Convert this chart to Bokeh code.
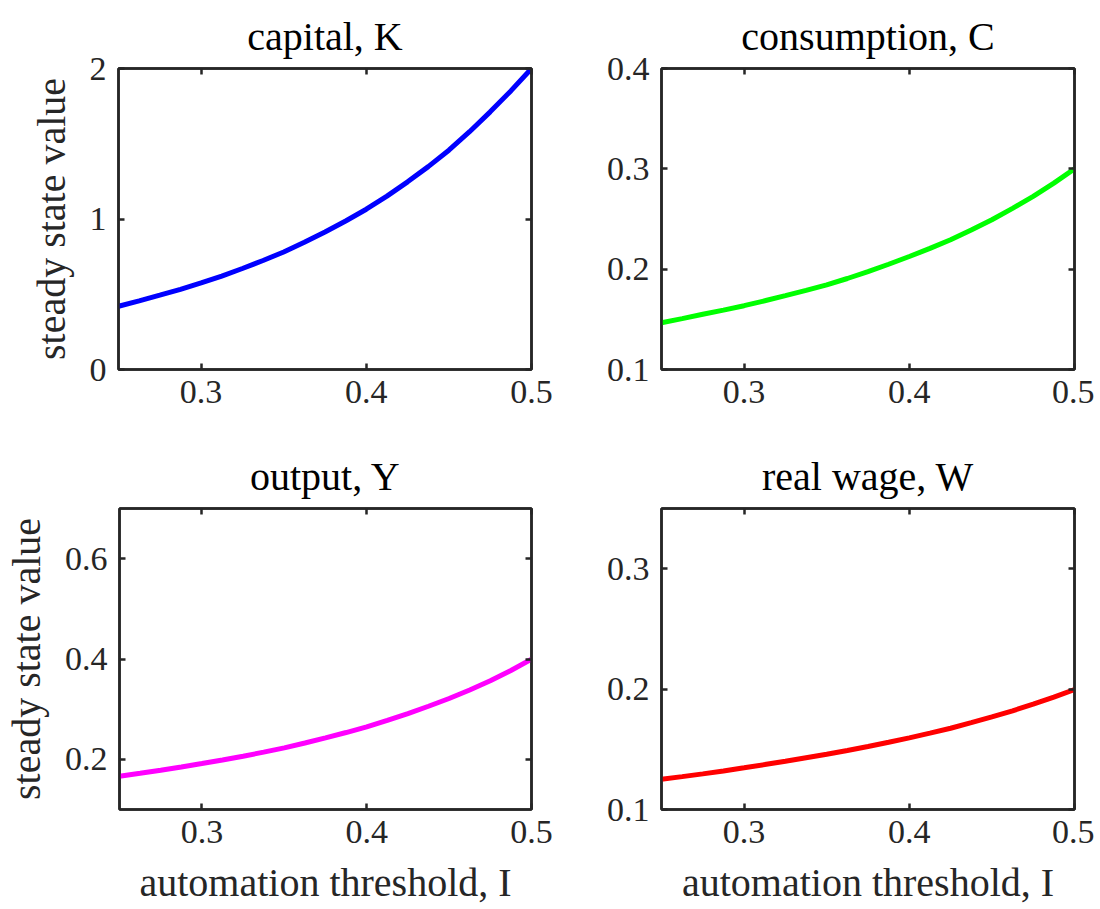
from bokeh.plotting import figure
from bokeh.models import Range1d, FixedTicker, LinearAxis
from bokeh.layouts import column, row
from bokeh.embed import file_html
from bokeh.resources import INLINE

# ---------------- data ----------------
I_vals = [0.25, 0.2625, 0.275, 0.2875, 0.30, 0.3125, 0.325, 0.3375, 0.35, 0.3625, 0.375,
          0.3875, 0.40, 0.4125, 0.425, 0.4375, 0.45, 0.4625, 0.475, 0.4875, 0.50]
K_vals = [0.420, 0.456, 0.494, 0.533, 0.575, 0.621, 0.671, 0.724, 0.781, 0.845, 0.914,
          0.987, 1.065, 1.152, 1.247, 1.348, 1.457, 1.580, 1.712, 1.851, 2.000]
C_vals = [0.1466, 0.1507, 0.1550, 0.1592, 0.1636, 0.1685, 0.1736, 0.1788, 0.1843, 0.1907, 0.1976,
          0.2049, 0.2126, 0.2207, 0.2293, 0.2390, 0.2493, 0.2606, 0.2726, 0.2858, 0.3000]
Y_vals = [0.1664, 0.1722, 0.1783, 0.1848, 0.1916, 0.1987, 0.2062, 0.2143, 0.2229, 0.2326, 0.2428,
          0.2534, 0.2647, 0.2776, 0.2913, 0.3058, 0.3212, 0.3383, 0.3565, 0.3772, 0.3995]
W_vals = [0.1252, 0.1273, 0.1296, 0.1320, 0.1346, 0.1373, 0.1401, 0.1430, 0.1459, 0.1490, 0.1523,
          0.1558, 0.1595, 0.1634, 0.1675, 0.1721, 0.1769, 0.1820, 0.1875, 0.1934, 0.1996]

x_ticks = [0.3, 0.4, 0.5]
x_tick_labels = ["0.3", "0.4", "0.5"]
K_ticks = [0, 1, 2]
K_tick_labels = ["0", "1", "2"]
C_ticks = [0.1, 0.2, 0.3, 0.4]
C_tick_labels = ["0.1", "0.2", "0.3", "0.4"]
Y_ticks = [0.2, 0.4, 0.6]
Y_tick_labels = ["0.2", "0.4", "0.6"]
W_ticks = [0.1, 0.2, 0.3]
W_tick_labels = ["0.1", "0.2", "0.3"]

titles = ["capital, K", "consumption, C", "output, Y", "real wage, W"]
y_label_text = "steady state value"
x_label_text = "automation threshold, I"

# ---------------- style ----------------
FONT = "Liberation Serif"
INK = "#262626"
TICK_FS = "34px"
LABEL_FS = "40px"


def style_axis(ax, ticks, labels, show):
    ax.ticker = FixedTicker(ticks=ticks)
    ax.axis_line_color = INK
    ax.axis_line_width = 2.5
    ax.major_tick_line_color = INK
    ax.major_tick_line_width = 2.5
    ax.major_tick_in = 6
    ax.major_tick_out = 0
    ax.minor_tick_line_color = None
    ax.major_label_text_font = FONT
    ax.major_label_text_color = INK
    ax.axis_label_text_font = FONT
    ax.axis_label_text_font_size = LABEL_FS
    ax.axis_label_text_font_style = "normal"
    ax.axis_label_text_color = INK
    if show:
        ax.major_label_overrides = {t: l for t, l in zip(ticks, labels)}
        ax.major_label_text_font_size = TICK_FS
    else:
        ax.major_label_overrides = {t: "" for t in ticks}
        ax.major_label_text_font_size = "1px"
        ax.major_label_standoff = 0


def make_panel(ys, color, yr, yticks, ylabels, title, width, height, borders,
               ylabel=False, xlabel=False):
    l, r, t, b = borders
    p = figure(width=width, height=height, x_range=Range1d(0.25, 0.5), y_range=Range1d(*yr),
               title=title, output_backend="svg", toolbar_location=None,
               min_border_left=l, min_border_right=r, min_border_top=t, min_border_bottom=b,
               background_fill_color="white", border_fill_color="white")
    p.grid.visible = False
    p.outline_line_color = INK
    p.outline_line_width = 2.5
    p.line(I_vals, ys, line_color=color, line_width=5)

    p.title.text_font = FONT
    p.title.text_font_size = LABEL_FS
    p.title.text_font_style = "normal"
    p.title.text_color = "#000000"
    p.title.align = "center"
    p.title.standoff = 20

    p.add_layout(LinearAxis(), "above")
    p.add_layout(LinearAxis(), "right")
    for ax in p.below:
        style_axis(ax, x_ticks, x_tick_labels, True)
        ax.major_label_standoff = 11
        if xlabel:
            ax.axis_label = x_label_text
            ax.axis_label_standoff = 14
    for ax in p.above:
        style_axis(ax, x_ticks, x_tick_labels, False)
    for ax in p.left:
        style_axis(ax, yticks, ylabels, True)
        ax.major_label_standoff = 12
        if ylabel:
            ax.axis_label = y_label_text
            ax.axis_label_standoff = 13
    for ax in p.right:
        style_axis(ax, yticks, ylabels, False)
    return p


p1 = make_panel(K_vals, "#0000FF", (0, 2), K_ticks, K_tick_labels, titles[0],
                598, 438, (118, 67, 68, 69), ylabel=True)
p2 = make_panel(C_vals, "#00FF00", (0.1, 0.4), C_ticks, C_tick_labels, titles[1],
                496, 438, (63, 20, 68, 69))
p3 = make_panel(Y_vals, "#FF00FF", (0.1, 0.7), Y_ticks, Y_tick_labels, titles[2],
                598, 471, (118, 67, 70, 100), ylabel=True, xlabel=True)
p4 = make_panel(W_vals, "#FF0000", (0.1, 0.35), W_ticks, W_tick_labels, titles[3],
                496, 471, (63, 20, 70, 100), xlabel=True)

layout = column(row(p1, p2), row(p3, p4))

with open("out.html", "w") as f:
    f.write(file_html(layout, INLINE))
